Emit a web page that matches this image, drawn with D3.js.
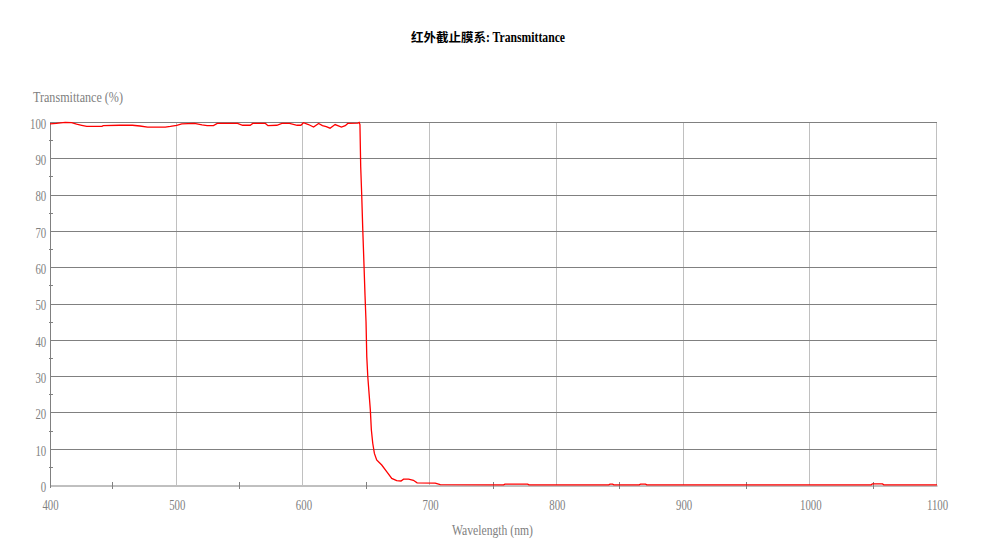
<!DOCTYPE html>
<html>
<head>
<meta charset="utf-8">
<script src="https://cdn.jsdelivr.net/npm/d3@7"></script>
<style>
  body { margin: 0; background: #fff; }
  svg { display: block; }
</style>
</head>
<body>
<svg width="988" height="557"></svg>
<script>
// wavelength (nm) and transmittance (%)
const wavelength = [400, 405, 412, 417, 421, 425, 429, 441, 442, 455, 465, 471, 477, 491, 495, 500, 504, 514, 520, 524,
  529, 532, 548, 552, 558, 560, 570, 572, 579, 583, 589, 595, 598, 600, 604, 608, 612, 615, 618, 621,
  625, 630, 633, 635, 643, 644, 644.6, 645.2, 646, 646.8, 647.8, 648.6, 649.4, 650, 650.8, 652, 652.8, 653.6, 654.7, 656,
  657.8, 661.8, 665.7, 669.7, 673.6, 677, 679, 683, 686.8, 689.7, 704, 708, 758, 759, 777, 778,
  841, 842, 844, 845, 865, 866, 870, 871, 1048, 1049, 1057, 1058, 1100];
const transmittance = [99.5, 99.6, 99.9, 99.8, 99.4, 99.1, 98.8, 98.8, 99.0, 99.1, 99.1, 98.9, 98.6, 98.6, 98.8, 99.1, 99.5, 99.6, 99.2, 99.0,
  99.0, 99.6, 99.6, 99.1, 99.1, 99.6, 99.6, 99.0, 99.1, 99.6, 99.6, 99.1, 99.1, 99.8, 99.3, 98.6, 99.6, 99.0, 98.7, 98.3,
  99.3, 98.6, 99.0, 99.6, 99.7, 99.9, 99.3, 87.7, 79.9, 70.7, 60.6, 52.3, 45, 35.3, 29.8, 24.3, 20.7, 15.2, 11.5, 8.7,
  6.9, 5.5, 3.7, 1.8, 1.2, 1.1, 1.6, 1.6, 1.3, 0.6, 0.5, 0.1, 0.05, 0.25, 0.25, 0.05,
  0.05, 0.25, 0.25, 0.05, 0.05, 0.25, 0.25, 0.05, 0.05, 0.3, 0.3, 0.05, 0.05];

const xTicks = [400, 500, 600, 700, 800, 900, 1000, 1100];
const xMinor = [450, 550, 650, 750, 850, 950, 1050];
const yTicks = [0, 10, 20, 30, 40, 50, 60, 70, 80, 90, 100];
const yMinor = [5, 15, 25, 35, 45, 55, 65, 75, 85, 95];

const chartTitleCn = "红外截止膜系";
const chartTitleEn = ": Transmittance";
const yLabel = "Transmittance (%)";
const xLabel = "Wavelength (nm)";

var svg = d3.select("svg");
const g = svg.append("g");

const plotL = 50, plotR = 937, plotT = 122, plotB = 485;
const grey = "#808080", light = "#c0c0c0";
const serif = "'Liberation Serif', 'Times New Roman', serif";

var x = d3.scaleLinear().domain([400, 1100]).range([plotL, plotR]);
var y = d3.scaleLinear().domain([0, 100]).range([plotB, plotT]);

// vertical grid (light)
g.selectAll("line.vgrid")
  .data(xTicks.slice(1))
  .enter().append("line")
  .attr("class", "vgrid")
  .attr("x1", d => Math.round(x(d)) - 0.5).attr("x2", d => Math.round(x(d)) - 0.5)
  .attr("y1", plotT).attr("y2", plotB)
  .style("stroke", light);

// horizontal grid (dark)
g.selectAll("line.hgrid")
  .data(yTicks.slice(1))
  .enter().append("line")
  .attr("class", "hgrid")
  .attr("x1", plotL).attr("x2", plotR)
  .attr("y1", d => Math.round(y(d)) + 0.5).attr("y2", d => Math.round(y(d)) + 0.5)
  .style("stroke", grey);

// minor ticks
g.selectAll("line.xminor")
  .data(xMinor)
  .enter().append("line")
  .attr("x1", d => Math.round(x(d)) - 0.5).attr("x2", d => Math.round(x(d)) - 0.5)
  .attr("y1", plotB - 3).attr("y2", plotB + 4)
  .style("stroke", grey);

g.selectAll("line.yminor")
  .data(yMinor)
  .enter().append("line")
  .attr("x1", plotL - 1).attr("x2", plotL + 3)
  .attr("y1", d => Math.round(y(d)) + 0.5).attr("y2", d => Math.round(y(d)) + 0.5)
  .style("stroke", grey);

// axes
var xAxis = g.append("g")
  .attr("transform", "translate(0," + (plotB + 0.5) + ")")
  .call(d3.axisBottom(x).tickValues(xTicks).tickFormat(d3.format("d"))
    .tickSize(0).tickSizeOuter(0).tickPadding(14));
var yAxis = g.append("g")
  .attr("transform", "translate(" + (plotL + 0.5) + ",0)")
  .call(d3.axisLeft(y).tickValues(yTicks).tickFormat(d3.format("d"))
    .tickSize(0).tickSizeOuter(0).tickPadding(4));

[xAxis, yAxis].forEach(a => {
  a.select(".domain").style("stroke", grey);
  a.selectAll("text")
    .style("font-family", serif)
    .style("font-size", "15px")
    .style("fill", grey)
    .attr("transform", "scale(0.72,1)");
});
yAxis.select(".domain").attr("d", "M0," + plotT + "V" + (plotB + 3));
yAxis.selectAll("text").attr("x", -6).attr("dy", "0.42em");

// curve
var line = d3.line()
  .x((d, i) => x(wavelength[i]))
  .y(d => y(d));

g.append("path")
  .datum(transmittance)
  .attr("d", line)
  .style("fill", "none")
  .style("stroke", "#ff0000")
  .style("stroke-width", 1.3);

// titles
svg.append("text")
  .attr("x", 486).attr("y", 42)
  .attr("text-anchor", "end")
  .style("font-family", "'Noto Sans CJK SC', sans-serif")
  .style("font-weight", "bold")
  .style("font-size", "12.5px")
  .style("fill", "#000")
  .text(chartTitleCn);

svg.append("text")
  .attr("x", 486).attr("y", 42)
  .attr("textLength", 79).attr("lengthAdjust", "spacingAndGlyphs")
  .style("font-family", serif)
  .style("font-weight", "bold")
  .style("font-size", "14px")
  .style("fill", "#000")
  .text(chartTitleEn);

svg.append("text")
  .attr("x", 33).attr("y", 102)
  .attr("textLength", 90).attr("lengthAdjust", "spacingAndGlyphs")
  .style("font-family", serif)
  .style("font-size", "15px")
  .style("fill", grey)
  .text(yLabel);

svg.append("text")
  .attr("x", 452).attr("y", 535)
  .attr("textLength", 81).attr("lengthAdjust", "spacingAndGlyphs")
  .style("font-family", serif)
  .style("font-size", "15px")
  .style("fill", grey)
  .text(xLabel);
</script>
</body>
</html>
